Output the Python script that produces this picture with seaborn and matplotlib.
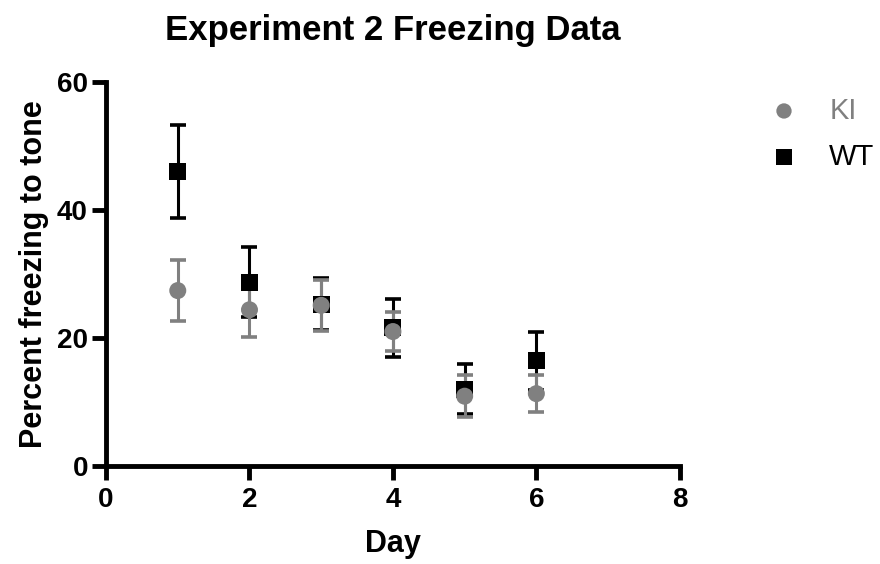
import pandas as pd
import matplotlib
matplotlib.use('Agg')
import matplotlib.pyplot as plt
import seaborn as sns

'''Data read off the reference chart'''
days = [1, 2, 3, 4, 5, 6]
ki_mean = [27.4, 24.4, 25.1, 21.0, 10.9, 11.3]
ki_sem = [4.8, 4.3, 4.0, 3.0, 3.3, 2.9]
wt_mean = [46.0, 28.7, 25.3, 21.6, 12.0, 16.4]
wt_sem = [7.2, 5.5, 4.0, 4.5, 3.9, 4.5]

groups = ['KI', 'WT']
colors = {'KI': '#808080', 'WT': '#000000'}
markers = {'KI': 'o', 'WT': 's'}

ki = pd.DataFrame({'Day': days, 'Freezing': ki_mean, 'SEM': ki_sem, 'Group': 'KI'})
wt = pd.DataFrame({'Day': days, 'Freezing': wt_mean, 'SEM': wt_sem, 'Group': 'WT'})

sns.set_style('ticks', rc={'axes.edgecolor': 'black', 'text.color': 'black',
                           'axes.labelcolor': 'black', 'xtick.color': 'black',
                           'ytick.color': 'black'})
plt.rcParams['font.family'] = ['Liberation Sans', 'DejaVu Sans']

fig = plt.figure(figsize=(8.8, 5.64), dpi=100)
ax = fig.add_axes([0.1205, 0.1738, 0.652, 0.681])

#WT first, KI drawn on top
for dat in [wt, ki]:
    g = dat['Group'].iloc[0]
    ax.errorbar(dat['Day'], dat['Freezing'], yerr=dat['SEM'],
                fmt='none', ecolor=colors[g], elinewidth=2.2,
                capsize=6, capthick=2.6, zorder=2)
    sns.scatterplot(data=dat, x='Day', y='Freezing', ax=ax,
                    color=colors[g], marker=markers[g], s=150,
                    edgecolor='none', label=g, zorder=3)

#Figure Specifications
ax.set_xlim(0, 8)
ax.set_ylim(0, 60)
ax.set_xticks([0, 2, 4, 6, 8])
ax.set_yticks([0, 20, 40, 60])
for side in ['top', 'right']:
    ax.spines[side].set_visible(False)
for side in ['left', 'bottom']:
    ax.spines[side].set_linewidth(3.5)
ax.tick_params(width=3.5, length=10, labelsize=20, pad=3)
ax.tick_params(axis='x', pad=5)
for lab in ax.get_xticklabels() + ax.get_yticklabels():
    lab.set_fontweight('bold')
ax.set_xlabel('Day', fontsize=22, fontweight='bold', labelpad=12)
ax.set_ylabel('Percent freezing to tone', fontsize=22, fontweight='bold', labelpad=6)
ax.set_title('Experiment 2 Freezing Data', fontsize=25, fontweight='bold', pad=30)

handles, labels = ax.get_legend_handles_labels()
order = [labels.index(g) for g in groups]
leg = ax.legend([handles[i] for i in order], [labels[i] for i in order],
                loc='upper left', bbox_to_anchor=(1.085, 1.03), frameon=False,
                fontsize=21, handletextpad=0.55, labelspacing=0.62, markerscale=0.9)
for txt in leg.get_texts():
    txt.set_color(colors[txt.get_text()])

plt.savefig('out.png', dpi=100)
